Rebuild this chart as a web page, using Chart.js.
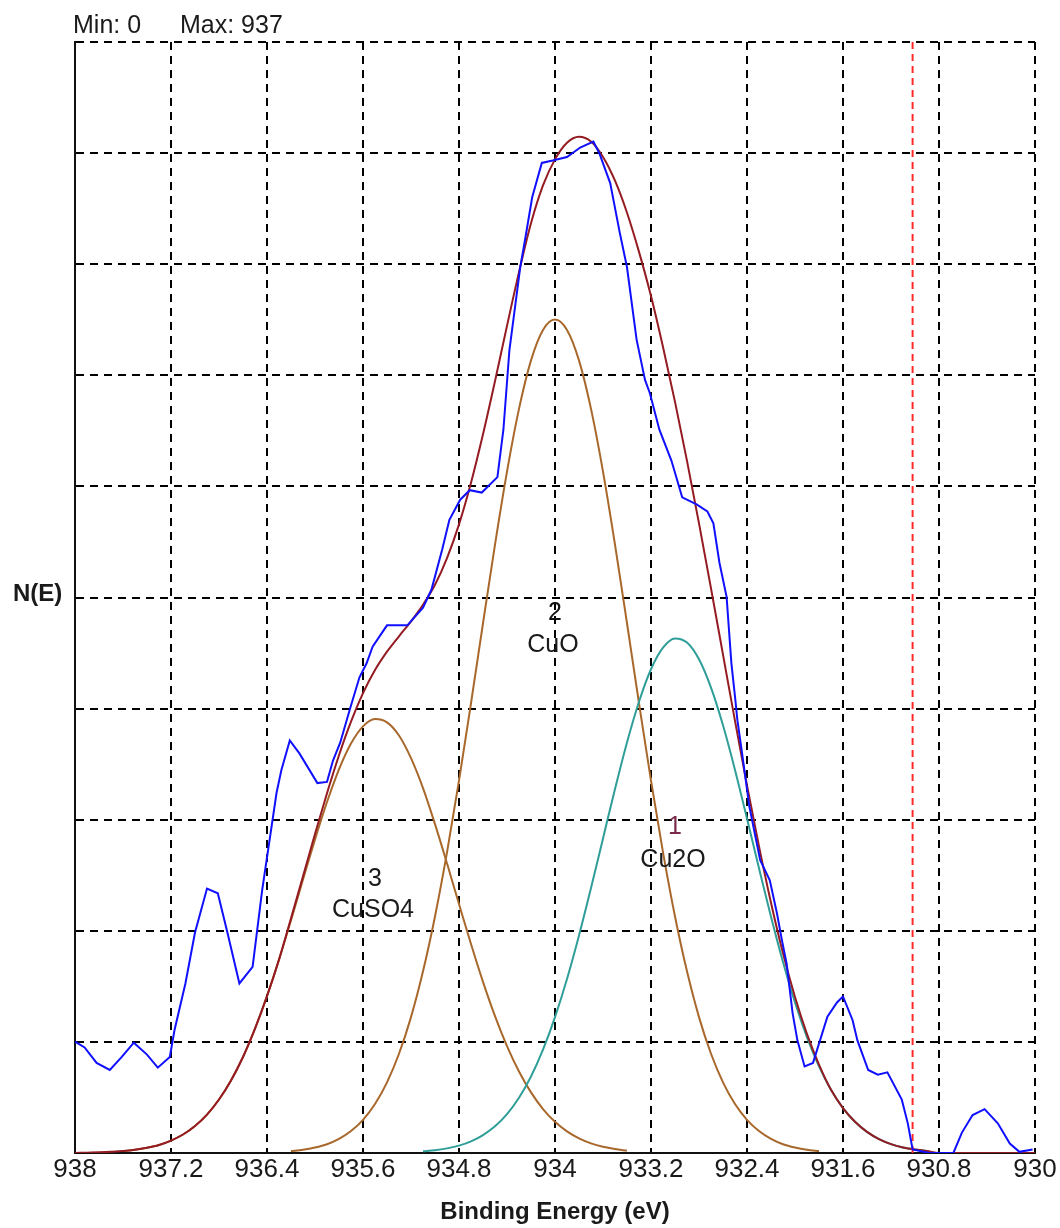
<!DOCTYPE html>
<html>
<head>
<meta charset="utf-8">
<title>Cu 2p peak fit</title>
<script src="https://cdn.jsdelivr.net/npm/chart.js@4.4.1/dist/chart.umd.min.js"></script>
<style>
  html, body { margin: 0; padding: 0; background: #fff; }
  #wrap { width: 1060px; height: 1228px; }
</style>
</head>
<body>
<div id="wrap"><canvas id="xps" width="1060" height="1228"></canvas></div>
<script>
// axis range and ticks
const yMin = 0;
const yMax = 937;
const xTicks = [938, 937.2, 936.4, 935.6, 934.8, 934, 933.2, 932.4, 931.6, 930.8, 930];
const yTicks = [0, 93.7, 187.4, 281.1, 374.8, 468.5, 562.2, 655.9, 749.6, 843.3, 937];
const cursorE = 931.02;

// measured spectrum (blue)
const blueE = [938.0, 937.92, 937.82, 937.71, 937.61, 937.51, 937.40, 937.31, 937.21, 937.17,
  937.08, 937.00, 936.90, 936.81, 936.73, 936.63, 936.52, 936.44, 936.39, 936.32,
  936.28, 936.21, 936.13, 935.98, 935.90, 935.85, 935.79, 935.71, 935.63, 935.57,
  935.52, 935.40, 935.23, 935.10, 935.03, 934.94, 934.88, 934.79, 934.71, 934.61,
  934.48, 934.43, 934.38, 934.29, 934.25, 934.19, 934.11, 934.02, 933.90, 933.79,
  933.68, 933.63, 933.54, 933.46, 933.40, 933.32, 933.25, 933.21, 933.13, 933.03,
  932.94, 932.82, 932.73, 932.68, 932.63, 932.57, 932.53, 932.50, 932.48, 932.43,
  932.38, 932.29, 932.21, 932.15, 932.11, 932.07, 932.02, 931.98, 931.92, 931.85,
  931.73, 931.65, 931.60, 931.52, 931.48, 931.39, 931.31, 931.23, 931.11, 931.06,
  931.02, 930.88, 930.68, 930.61, 930.52, 930.42, 930.31, 930.21, 930.13, 930.02];
const blueN = [94, 89, 76, 70, 81, 93, 83, 72, 81, 104,
  143, 186, 223, 219, 186, 143, 157, 222, 256, 304,
  323, 348, 337, 312, 313, 331, 346, 374, 401, 413,
  427, 445, 445, 460, 475, 509, 534, 551, 559, 557,
  570, 610, 677, 747, 770, 806, 835, 837, 840, 848,
  853, 843, 818, 776, 747, 686, 652, 641, 610, 584,
  553, 547, 541, 531, 498, 469, 413, 385, 365, 329,
  292, 247, 230, 202, 180, 160, 118, 95, 73, 76,
  115, 127, 132, 112, 95, 70, 66, 68, 45, 25,
  3, 0, 0, 17, 32, 37, 25, 8, 1, 3];

// energy grid of the fitted curves
const gridE = [938.0, 937.9, 937.8, 937.7, 937.6, 937.5, 937.4, 937.3, 937.2, 937.1,
  937.0, 936.9, 936.8, 936.7, 936.6, 936.5, 936.4, 936.3, 936.2, 936.1,
  936.0, 935.9, 935.8, 935.7, 935.6, 935.5, 935.4, 935.3, 935.2, 935.1,
  935.0, 934.9, 934.8, 934.7, 934.6, 934.5, 934.4, 934.3, 934.2, 934.1,
  934.0, 933.9, 933.8, 933.7, 933.6, 933.5, 933.4, 933.3, 933.2, 933.1,
  933.0, 932.9, 932.8, 932.7, 932.6, 932.5, 932.4, 932.3, 932.2, 932.1,
  932.0, 931.9, 931.8, 931.7, 931.6, 931.5, 931.4, 931.3, 931.2, 931.1,
  931.0, 930.9, 930.8, 930.7, 930.6, 930.5, 930.4, 930.3, 930.2, 930.1, 930.0];

// envelope (sum of peaks)
const envN = [0, 0.3, 0.6, 1.0, 1.6, 2.7, 4.4, 6.8, 10.5, 15.6,
  22.8, 32.4, 45.1, 61.2, 81.0, 104.9, 132.3, 163.1, 197.9, 233.3,
  269.0, 303.4, 335.5, 363.8, 387.8, 407.3, 422.8, 435.8, 448.4, 462.4,
  479.2, 501.7, 530.2, 565.3, 606.2, 651.0, 697.6, 742.9, 784.1, 816.0,
  838.0, 852.0, 857.0, 853.0, 840.0, 820.0, 793.0, 760.0, 722.7, 679.7,
  633.5, 583.7, 531.0, 476.2, 420.3, 364.4, 310.1, 258.6, 211.1, 168.4,
  131.5, 100.2, 74.6, 53.3, 37.9, 26.3, 17.8, 11.7, 7.5, 4.7,
  2.9, 1.7, 0, 0, 0, 0, 0, 0, 0, 0, 0];

// peak 3, CuSO4 : 937.6 .. 933.4
const cuso4E = gridE.slice(4, 47);
const cuso4N = [1.6, 2.7, 4.4, 6.8, 10.5, 15.6, 22.8, 32.4, 45.1, 61.2,
  81.0, 104.9, 132.3, 163.1, 196.3, 230.6, 264.4, 296.0, 323.6, 345.3,
  359.8, 366.0, 363.2, 352.1, 333.0, 307.8, 277.4, 244.3, 210.0, 176.2,
  144.3, 115.4, 90.1, 68.7, 51.1, 37.1, 26.3, 18.2, 12.3, 8.1,
  5.2, 3.3, 2.0];

// peak 2, CuO : 936.2 .. 931.8
const cuoE = gridE.slice(18, 63);
const cuoN = [1.6, 2.7, 4.6, 7.4, 11.9, 18.5, 28.0, 41.3, 59.6, 83.7,
  114.6, 153.2, 199.5, 253.5, 314.0, 379.3, 446.8, 513.1, 574.7, 627.6,
  668.5, 694.2, 703.0, 694.2, 668.5, 627.6, 574.7, 513.1, 446.8, 379.3,
  314.0, 253.5, 199.5, 153.2, 114.6, 83.7, 59.6, 41.3, 28.0, 18.5,
  11.9, 7.4, 4.6, 2.7, 1.6];

// peak 1, Cu2O : 935.1 .. 930.9
const cu2oE = gridE.slice(29, 72);
const cu2oN = [1.4, 2.3, 3.9, 6.2, 9.8, 15.1, 22.5, 32.8, 46.6, 64.5,
  87.1, 114.6, 146.8, 183.5, 223.5, 265.3, 307.0, 346.3, 380.6, 408.0,
  426.2, 434.0, 430.5, 416.4, 392.5, 360.7, 323.1, 282.1, 240.1, 199.2,
  161.0, 126.9, 97.5, 73.0, 53.3, 37.9, 26.3, 17.8, 11.7, 7.5,
  4.7, 2.9, 1.7];

// peak labels: number, name, energy, y of number, y of name, colour of number
const peakLabels = [
  ["3", "CuSO4", 935.5, 231, 205, "#1a1a1a"],
  ["2", "CuO", 934.0, 455, 428, "#111111"],
  ["1", "Cu2O", 933.0, 275, 247, "#7a2a4a"],
];

const pts = (xs, ys) => xs.map((x, i) => ({ x: x, y: ys[i] }));
const FONT = "'Liberation Sans', Arial, sans-serif";

const textPlugin = {
  id: "xpsText",
  afterDraw(chart) {
    const { ctx, chartArea, scales } = chart;
    ctx.save();
    ctx.fillStyle = "#1a1a1a";
    ctx.textBaseline = "alphabetic";
    ctx.textAlign = "left";
    ctx.font = "25px " + FONT;
    ctx.fillText("Min: " + yMin, 73, 33);
    ctx.fillText("Max: " + yMax, 180, 33);

    ctx.font = "bold 24px " + FONT;
    ctx.textBaseline = "middle";
    ctx.fillText("N(E)", 13, 594);
    ctx.textAlign = "center";
    ctx.fillText("Binding Energy (eV)", (chartArea.left + chartArea.right) / 2, 1212);

    ctx.font = "25px " + FONT;
    peakLabels.forEach(([num, name, e, y1, y2, col]) => {
      const x = scales.x.getPixelForValue(e);
      ctx.fillStyle = col;
      ctx.fillText(num, x, scales.y.getPixelForValue(y1));
      ctx.fillStyle = "#1a1a1a";
      ctx.fillText(name, x - 2, scales.y.getPixelForValue(y2));
    });
    ctx.restore();
  }
};

const ctx = document.getElementById("xps");
// eslint-disable-next-line no-unused-vars
const xpsChart = new Chart(ctx, {
  type: "line",
  data: {
    datasets: [
      {
        label: "data",
        data: pts(blueE, blueN),
        borderColor: "#1010ff",
        borderWidth: 2,
        tension: 0,
      },
      {
        label: "cursor",
        data: [{ x: cursorE, y: yMin }, { x: cursorE, y: yMax }],
        borderColor: "#ff2a2a",
        borderWidth: 2,
        borderDash: [7, 5],
      },
      {
        label: "envelope",
        data: pts(gridE, envN),
        borderColor: "#951b22",
        borderWidth: 2,
        cubicInterpolationMode: "monotone",
      },
      {
        label: "Cu2O",
        data: pts(cu2oE, cu2oN),
        borderColor: "#2f9e98",
        borderWidth: 2,
        cubicInterpolationMode: "monotone",
      },
      {
        label: "CuO",
        data: pts(cuoE, cuoN),
        borderColor: "#a8682c",
        borderWidth: 2,
        cubicInterpolationMode: "monotone",
      },
      {
        label: "CuSO4",
        data: pts(cuso4E, cuso4N),
        borderColor: "#a8682c",
        borderWidth: 2,
        cubicInterpolationMode: "monotone",
      },
    ],
  },
  options: {
    responsive: false,
    animation: false,
    devicePixelRatio: 1,
    layout: { padding: { top: 42, right: 25, left: 0, bottom: 0 } },
    elements: { point: { radius: 0, hoverRadius: 0 } },
    plugins: {
      legend: { display: false },
      tooltip: { enabled: false },
    },
    scales: {
      x: {
        type: "linear",
        reverse: true,
        min: 930,
        max: 938,
        afterBuildTicks: (s) => { s.ticks = xTicks.map((v) => ({ value: v })); },
        afterFit: (s) => { s.height = 75; },
        ticks: {
          autoSkip: false,
          maxRotation: 0,
          padding: 1,
          color: "#1a1a1a",
          font: { family: FONT, size: 26 },
          callback: (v) => String(Number(v.toFixed(1))),
        },
        grid: { color: "#000", lineWidth: 2, drawTicks: false },
        border: { display: true, color: "#111", width: 2, dash: [8, 6] },
      },
      y: {
        min: yMin,
        max: yMax,
        afterBuildTicks: (s) => { s.ticks = yTicks.map((v) => ({ value: v })); },
        afterFit: (s) => { s.width = 75; },
        ticks: { display: false },
        grid: { color: "#000", lineWidth: 2, drawTicks: false },
        border: { display: true, color: "#111", width: 2, dash: [8, 6] },
      },
    },
  },
  plugins: [textPlugin],
});
</script>
</body>
</html>
